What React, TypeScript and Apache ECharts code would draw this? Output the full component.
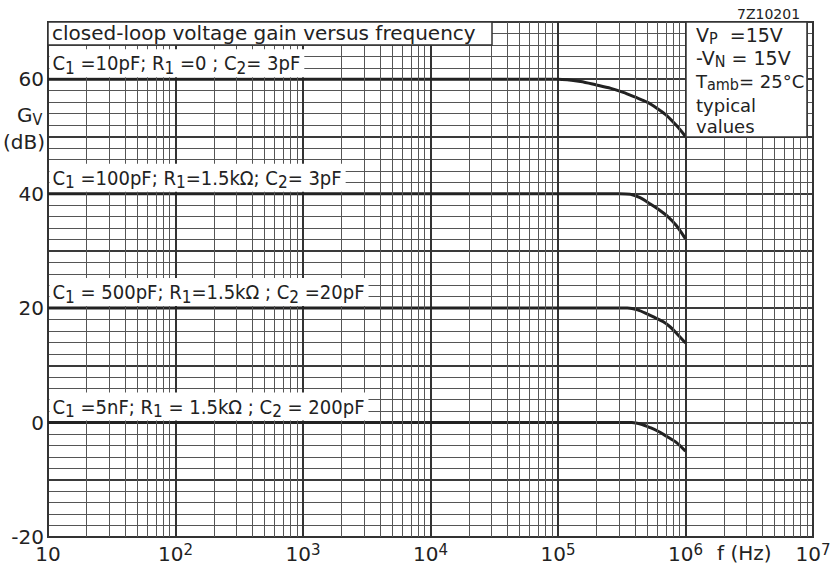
import { useEffect, useRef } from 'react';
import * as echarts from 'echarts';

const decades = [10, 100, 1000, 1e4, 1e5, 1e6, 1e7];
const yTickLabels = [-20, 0, 20, 40, 60];

const freq60 = [10, 1e5, 1.5e5, 2e5, 2.6e5, 3.25e5, 4e5, 5e5, 6e5, 7.1e5, 8.5e5, 1e6];
const gain60 = [60, 60, 59.6, 59.0, 58.4, 57.7, 56.9, 56.0, 54.9, 53.7, 51.9, 50.0];
const freq40 = [10, 3e5, 3.7e5, 4.4e5, 5.3e5, 6.2e5, 7.1e5, 8.5e5, 1e6];
const gain40 = [40, 40, 39.9, 39.3, 38.2, 37.2, 36.2, 34.4, 32.1];
const freq20 = [10, 3.5e5, 4.2e5, 5e5, 5.8e5, 6.7e5, 7.6e5, 8.5e5, 1e6];
const gain20 = [20, 20, 19.7, 19.0, 18.3, 17.6, 16.7, 15.6, 13.9];
const freq0 = [10, 3.8e5, 4.5e5, 5.3e5, 6.2e5, 7.1e5, 8.5e5, 1e6];
const gain0 = [0, 0, -0.3, -0.9, -1.6, -2.4, -3.5, -5.0];

const label60 = 'C{s|1} =10pF; R{s|1} =0 ; C{s|2}= 3pF';
const label40 = 'C{s|1} =100pF; R{s|1}=1.5kΩ; C{s|2}= 3pF';
const label20 = 'C{s|1} = 500pF; R{s|1}=1.5kΩ ; C{s|2} =20pF';
const label0 = 'C{s|1} =5nF; R{s|1} = 1.5kΩ ; C{s|2} = 200pF';

const boxLines = ['V{s|P}  =15V', '-V{s|N} = 15V', 'T{s|amb}= 25°C', 'typical', 'values'];

const FONT = "'DejaVu Sans', sans-serif";
const LFONT = "'DejaVu Sans Condensed', 'DejaVu Sans', sans-serif";
const INK = '#222';

const minorFreqs: number[] = [];
decades.slice(0, -1).forEach((d) => {
  for (let k = 2; k <= 9; k++) minorFreqs.push(k * d);
});

const subRich = (size: number, lh = 16) => ({
  s: { fontSize: size, lineHeight: lh, verticalAlign: 'bottom', fontFamily: LFONT, color: INK },
});

function curve(f: number[], g: number[], text: string) {
  return {
    type: 'line',
    data: f.map((x, i) => [x, g[i]]),
    symbol: 'none',
    smooth: 0.3,
    lineStyle: { color: INK, width: 3 },
    z: 3,
    markPoint: {
      symbol: 'circle',
      symbolSize: 1,
      silent: true,
      itemStyle: { color: 'rgba(0,0,0,0)' },
      data: [
        {
          coord: [f[0], g[0]],
          label: {
            show: true,
            position: 'right',
            distance: 0,
            offset: [1, -16],
            formatter: text,
            color: INK,
            fontFamily: LFONT,
            fontSize: 20,
            lineHeight: 26,
            backgroundColor: '#fff',
            padding: [1, 4, 1, 3],
            rich: subRich(17),
          },
        },
      ],
    },
  };
}

export default function App() {
  const ref = useRef<HTMLDivElement>(null);
  useEffect(() => {
    if (!ref.current) return;
    const chart = echarts.init(ref.current, undefined, { renderer: 'svg' });
    const boxY = [35, 58, 81, 105, 126.5];
    const boxSize = [19, 19, 18, 18, 18];
    chart.setOption({
      animation: false,
      backgroundColor: '#fff',
      grid: { left: 48, right: 22, top: 22, bottom: 31, show: true, borderColor: '#333', borderWidth: 2 },
      xAxis: {
        type: 'log',
        logBase: 10,
        min: 10,
        max: 1e7,
        splitNumber: 6,
        axisLine: { show: true, onZero: false, lineStyle: { color: '#333', width: 2 } },
        axisTick: { show: false },
        axisLabel: {
          color: INK,
          fontFamily: FONT,
          fontSize: 20,
          lineHeight: 24,
          margin: 5,
          formatter: (v: number) => {
            const e = Math.round(Math.log10(v));
            return e === 1 ? '10' : `10{sup|${e}}`;
          },
          rich: { sup: { fontSize: 15, lineHeight: 12, verticalAlign: 'top', fontFamily: FONT, color: INK } },
        },
        splitLine: { show: true, lineStyle: { color: '#333', width: 2 } },
      },
      yAxis: {
        type: 'value',
        min: -20,
        max: 70,
        interval: 10,
        axisLine: { show: true, lineStyle: { color: '#333', width: 2 } },
        axisTick: { show: false },
        axisLabel: {
          color: INK,
          fontFamily: FONT,
          fontSize: 20,
          margin: 4,
          formatter: (v: number) => (yTickLabels.includes(v) ? String(v) : ''),
        },
        splitLine: { show: true, lineStyle: { color: '#3a3a3a', width: 1.8 } },
        minorTick: { show: false, splitNumber: 5 },
        minorSplitLine: { show: true, lineStyle: { color: '#555', width: 1 } },
      },
      series: [
        {
          type: 'line',
          data: [[10, 70]],
          symbol: 'none',
          lineStyle: { width: 0 },
          z: 1,
          markLine: {
            silent: true,
            symbol: ['none', 'none'],
            label: { show: false },
            lineStyle: { color: '#555', width: 1, type: 'solid' },
            data: minorFreqs.map((f) => ({ xAxis: f })),
          },
        },
        curve(freq60, gain60, label60),
        curve(freq40, gain40, label40),
        curve(freq20, gain20, label20),
        curve(freq0, gain0, label0),
      ],
      graphic: [
        {
          type: 'rect',
          z: 100,
          shape: { x: 48, y: 22, width: 444, height: 23 },
          style: { fill: '#fff', stroke: '#333', lineWidth: 1.5 },
        },
        {
          type: 'text',
          z: 101,
          x: 52,
          y: 33,
          style: { text: 'closed-loop voltage gain versus frequency', fontSize: 20, fontFamily: FONT, fill: INK, verticalAlign: 'middle' },
        },
        {
          type: 'rect',
          z: 100,
          shape: { x: 686, y: 22, width: 121, height: 115 },
          style: { fill: '#fff', stroke: '#333', lineWidth: 1.5 },
        },
        ...boxLines.map((t, i) => {
          const hasSub = t.includes('{s|');
          return {
            type: 'text',
            z: 101,
            x: 696,
            y: boxY[i],
            style: {
              text: t,
              fontSize: boxSize[i],
              lineHeight: hasSub ? 22 : 18,
              fontFamily: FONT,
              fill: INK,
              verticalAlign: 'middle',
              rich: subRich(16, 14),
            },
          };
        }),
        {
          type: 'text',
          x: 17,
          y: 115,
          style: { text: 'G{s|V}', fontSize: 20, lineHeight: 24, fontFamily: FONT, fill: INK, verticalAlign: 'middle', rich: subRich(16) },
        },
        {
          type: 'text',
          x: 3,
          y: 142,
          style: { text: '(dB)', fontSize: 20, fontFamily: FONT, fill: INK, verticalAlign: 'middle' },
        },
        {
          type: 'text',
          x: 737,
          y: 14,
          style: { text: '7Z10201', fontSize: 14, fontFamily: FONT, fill: INK, verticalAlign: 'middle' },
        },
        {
          type: 'text',
          x: 717,
          y: 553,
          style: { text: 'f (Hz)', fontSize: 20, fontFamily: FONT, fill: INK, verticalAlign: 'middle' },
        },
      ],
    });
    return () => chart.dispose();
  }, []);
  return <div ref={ref} style={{ position: 'absolute', left: 0, top: 0, width: 835, height: 568 }} />;
}
